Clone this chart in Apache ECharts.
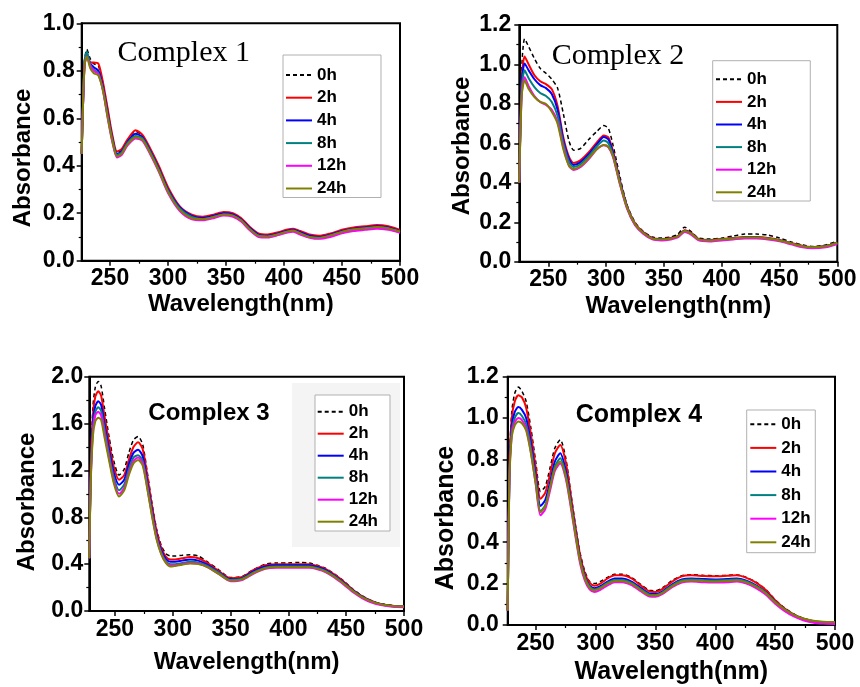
<!DOCTYPE html>
<html>
<head>
<meta charset="utf-8">
<script src="https://cdn.jsdelivr.net/npm/echarts@6/dist/echarts.min.js"></script>
<style>
html,body{margin:0;padding:0;background:#fff;}
#chart{width:860px;height:687px;}
</style>
</head>
<body>
<div id="chart"></div>
<script>
// ---------- shared ----------
const seriesNames = ['0h','2h','4h','8h','12h','24h'];
const seriesColors = ['#000000','#ff0000','#0000ff','#008080','#ff00ff','#808000'];
const panelTitles = ['Complex 1','Complex 2','Complex 3','Complex 4'];
const xTickLabels = [250,300,350,400,450,500];
const xMinorTicks = [275,325,375,425,475];
const xRangeMin = [225.6,224.9,227.8,226.6];
const xRangeMax = [500,500,500,500];
const yRangeMax = [1.0,1.2,2.0,1.2];
const yInterval = [0.2,0.2,0.4,0.2];

// ---------- Complex 1 ----------
const wl1 = [225.6,228,230,233,236,240,244,248,252,256,260,265,272,278,285,292,300,310,320,330,340,348,356,363,370,378,386,395,402,408,414,422,430,440,450,460,470,480,490,500];
const c1_0h = [0.45,0.84,0.89,0.85,0.83,0.82,0.745,0.635,0.525,0.455,0.465,0.505,0.545,0.525,0.465,0.395,0.305,0.225,0.19,0.18,0.19,0.2,0.195,0.175,0.14,0.11,0.107,0.117,0.127,0.132,0.122,0.107,0.102,0.112,0.127,0.137,0.142,0.147,0.142,0.127];
const c1_2h = [0.45,0.82,0.86,0.835,0.835,0.83,0.75,0.64,0.53,0.46,0.47,0.51,0.55,0.53,0.47,0.40,0.31,0.23,0.195,0.185,0.195,0.205,0.20,0.18,0.145,0.115,0.11,0.12,0.13,0.135,0.125,0.11,0.105,0.115,0.13,0.14,0.145,0.15,0.145,0.13];
const c1_4h = [0.45,0.83,0.875,0.83,0.815,0.80,0.73,0.62,0.515,0.45,0.46,0.50,0.535,0.52,0.46,0.39,0.30,0.225,0.19,0.18,0.19,0.2,0.195,0.175,0.14,0.11,0.105,0.115,0.125,0.13,0.12,0.105,0.10,0.11,0.125,0.135,0.14,0.145,0.14,0.125];
const c1_8h = [0.45,0.84,0.88,0.825,0.805,0.79,0.72,0.61,0.51,0.445,0.455,0.495,0.525,0.515,0.455,0.385,0.295,0.22,0.185,0.175,0.185,0.195,0.19,0.17,0.135,0.105,0.10,0.11,0.12,0.125,0.115,0.10,0.095,0.105,0.12,0.13,0.135,0.14,0.135,0.12];
const c1_12h = [0.45,0.82,0.86,0.82,0.80,0.785,0.715,0.60,0.50,0.435,0.445,0.485,0.515,0.505,0.445,0.375,0.285,0.21,0.175,0.17,0.18,0.19,0.185,0.165,0.13,0.10,0.098,0.108,0.118,0.122,0.11,0.097,0.092,0.10,0.115,0.125,0.13,0.135,0.13,0.118];
const c1_24h = [0.45,0.82,0.86,0.81,0.79,0.78,0.715,0.605,0.505,0.44,0.45,0.49,0.52,0.51,0.45,0.38,0.29,0.215,0.18,0.175,0.185,0.195,0.19,0.17,0.135,0.105,0.102,0.112,0.122,0.127,0.115,0.10,0.097,0.107,0.122,0.132,0.137,0.142,0.137,0.123];

// ---------- Complex 2 ----------
const wl2 = [224.9,227,229.5,233,238,243,248,253,258,263,268,272,278,285,292,298,302,306,312,318,325,332,340,348,356,362,368,374,380,390,400,410,420,430,440,450,460,470,478,490,500];
const c2_0h = [0.40,0.98,1.13,1.09,1.03,0.98,0.955,0.925,0.88,0.75,0.61,0.565,0.575,0.62,0.66,0.69,0.675,0.59,0.43,0.29,0.20,0.155,0.125,0.12,0.125,0.14,0.175,0.15,0.12,0.115,0.12,0.13,0.14,0.14,0.135,0.12,0.10,0.085,0.077,0.085,0.105];
const c2_2h = [0.40,0.93,1.04,1.00,0.945,0.915,0.90,0.875,0.79,0.63,0.53,0.50,0.515,0.555,0.605,0.64,0.63,0.56,0.41,0.285,0.195,0.15,0.12,0.115,0.12,0.13,0.16,0.145,0.115,0.11,0.115,0.12,0.125,0.125,0.12,0.11,0.095,0.08,0.075,0.08,0.098];
const c2_4h = [0.40,0.91,1.005,0.97,0.925,0.895,0.88,0.85,0.77,0.615,0.52,0.49,0.505,0.545,0.595,0.632,0.62,0.55,0.405,0.28,0.19,0.148,0.118,0.113,0.118,0.128,0.157,0.142,0.113,0.108,0.113,0.118,0.123,0.123,0.118,0.108,0.093,0.078,0.073,0.078,0.096];
const c2_8h = [0.40,0.88,0.97,0.93,0.885,0.855,0.84,0.81,0.74,0.60,0.505,0.48,0.495,0.535,0.585,0.615,0.60,0.54,0.40,0.278,0.19,0.147,0.117,0.112,0.117,0.127,0.155,0.14,0.112,0.107,0.112,0.117,0.122,0.122,0.117,0.107,0.092,0.077,0.072,0.077,0.095];
const c2_12h = [0.40,0.85,0.935,0.89,0.84,0.81,0.795,0.77,0.71,0.58,0.485,0.465,0.48,0.52,0.57,0.59,0.58,0.53,0.39,0.27,0.185,0.142,0.113,0.108,0.113,0.123,0.15,0.135,0.108,0.103,0.108,0.113,0.118,0.118,0.113,0.103,0.088,0.073,0.068,0.073,0.09];
const c2_24h = [0.40,0.84,0.92,0.875,0.835,0.81,0.80,0.76,0.70,0.57,0.485,0.47,0.485,0.525,0.57,0.592,0.582,0.535,0.395,0.275,0.19,0.147,0.117,0.113,0.118,0.128,0.156,0.141,0.113,0.108,0.113,0.118,0.123,0.123,0.118,0.108,0.093,0.078,0.073,0.078,0.096];

// ---------- Complex 3 ----------
const wl3 = [227.8,229,231,233,235.5,238,241,245,249,253.5,258,262,266,270,274,278,282,286,290,294,298,302,308,315,322,330,340,350,360,370,380,390,400,410,418,425,432,440,448,456,464,472,480,490,500];
const c3_0h = [0.45,1.25,1.75,1.91,1.96,1.92,1.73,1.48,1.28,1.16,1.21,1.35,1.46,1.49,1.42,1.18,0.92,0.70,0.56,0.49,0.47,0.47,0.475,0.48,0.47,0.42,0.35,0.285,0.295,0.355,0.40,0.41,0.41,0.415,0.41,0.39,0.365,0.315,0.255,0.185,0.128,0.087,0.062,0.046,0.04];
const c3_2h = [0.45,1.2,1.68,1.83,1.875,1.84,1.66,1.43,1.23,1.12,1.16,1.29,1.40,1.44,1.38,1.15,0.90,0.68,0.54,0.465,0.44,0.44,0.45,0.46,0.45,0.41,0.34,0.28,0.29,0.35,0.39,0.40,0.40,0.40,0.40,0.385,0.36,0.31,0.25,0.18,0.125,0.085,0.06,0.045,0.04];
const c3_4h = [0.45,1.15,1.62,1.75,1.79,1.76,1.59,1.37,1.18,1.077,1.12,1.25,1.35,1.376,1.32,1.10,0.86,0.65,0.52,0.445,0.42,0.42,0.43,0.44,0.43,0.395,0.33,0.27,0.28,0.34,0.38,0.39,0.39,0.39,0.39,0.375,0.35,0.30,0.24,0.175,0.12,0.082,0.058,0.043,0.039];
const c3_8h = [0.45,1.12,1.57,1.70,1.74,1.71,1.55,1.33,1.14,1.03,1.08,1.21,1.31,1.33,1.28,1.07,0.84,0.63,0.50,0.425,0.40,0.40,0.41,0.42,0.415,0.385,0.325,0.265,0.275,0.33,0.37,0.38,0.38,0.38,0.38,0.367,0.343,0.295,0.235,0.17,0.117,0.08,0.056,0.041,0.037];
const c3_12h = [0.45,1.10,1.54,1.67,1.70,1.67,1.51,1.30,1.11,1.0,1.05,1.18,1.28,1.31,1.26,1.05,0.82,0.62,0.49,0.415,0.39,0.39,0.40,0.41,0.405,0.375,0.315,0.255,0.265,0.32,0.36,0.37,0.37,0.37,0.37,0.357,0.333,0.285,0.225,0.16,0.108,0.072,0.05,0.036,0.033];
const c3_24h = [0.45,1.08,1.50,1.62,1.65,1.63,1.48,1.28,1.09,0.977,1.03,1.16,1.26,1.29,1.24,1.04,0.81,0.61,0.485,0.41,0.38,0.385,0.395,0.405,0.40,0.375,0.315,0.26,0.27,0.325,0.365,0.375,0.375,0.375,0.375,0.362,0.338,0.29,0.232,0.168,0.116,0.08,0.057,0.043,0.04];

// ---------- Complex 4 ----------
const wl4 = [226.6,228,230,232.5,235.5,238.5,242,246,250,254,258,262,266,270.5,275,279,283,287,291,295,299,304,310,316,322,330,338,345,350,356,364,372,380,390,400,410,418,426,434,442,450,458,466,474,482,490,500];
const c4_0h = [0.07,0.77,1.03,1.12,1.15,1.13,1.08,0.95,0.79,0.645,0.67,0.76,0.855,0.895,0.81,0.65,0.49,0.35,0.26,0.21,0.2,0.21,0.23,0.245,0.245,0.23,0.195,0.168,0.165,0.18,0.215,0.238,0.243,0.24,0.238,0.24,0.242,0.23,0.207,0.172,0.122,0.082,0.052,0.031,0.019,0.013,0.011];
const c4_2h = [0.07,0.75,1.0,1.08,1.11,1.10,1.05,0.92,0.76,0.61,0.64,0.73,0.83,0.87,0.79,0.64,0.48,0.34,0.25,0.205,0.19,0.20,0.225,0.24,0.24,0.225,0.19,0.163,0.16,0.175,0.21,0.235,0.24,0.237,0.235,0.238,0.24,0.228,0.205,0.17,0.12,0.08,0.05,0.03,0.018,0.013,0.011];
const c4_4h = [0.07,0.72,0.96,1.03,1.053,1.04,1.0,0.88,0.72,0.575,0.605,0.69,0.79,0.83,0.75,0.61,0.46,0.32,0.235,0.19,0.178,0.188,0.21,0.225,0.225,0.21,0.178,0.152,0.15,0.163,0.197,0.22,0.225,0.222,0.22,0.222,0.225,0.214,0.192,0.16,0.113,0.075,0.047,0.028,0.016,0.012,0.01];
const c4_8h = [0.07,0.71,0.94,1.0,1.024,1.01,0.97,0.855,0.70,0.55,0.58,0.67,0.765,0.806,0.73,0.60,0.45,0.315,0.23,0.185,0.172,0.182,0.204,0.218,0.218,0.204,0.172,0.147,0.145,0.158,0.192,0.215,0.22,0.217,0.215,0.217,0.22,0.21,0.188,0.157,0.112,0.076,0.048,0.029,0.018,0.014,0.012];
const c4_12h = [0.07,0.70,0.92,0.98,1.0,0.99,0.95,0.835,0.68,0.53,0.56,0.65,0.745,0.78,0.71,0.58,0.435,0.30,0.215,0.172,0.16,0.17,0.192,0.207,0.207,0.193,0.162,0.138,0.136,0.15,0.183,0.205,0.21,0.207,0.205,0.207,0.21,0.2,0.178,0.147,0.103,0.067,0.04,0.022,0.011,0.007,0.005];
const c4_24h = [0.07,0.69,0.91,0.965,0.984,0.975,0.94,0.83,0.685,0.545,0.575,0.665,0.755,0.79,0.72,0.59,0.445,0.31,0.225,0.18,0.168,0.178,0.2,0.213,0.213,0.2,0.168,0.143,0.142,0.155,0.188,0.21,0.215,0.213,0.21,0.213,0.216,0.206,0.185,0.155,0.11,0.075,0.048,0.03,0.02,0.016,0.014];

const panelWl = [wl1, wl2, wl3, wl4];
const panelValues = [
  [c1_0h,c1_2h,c1_4h,c1_8h,c1_12h,c1_24h],
  [c2_0h,c2_2h,c2_4h,c2_8h,c2_12h,c2_24h],
  [c3_0h,c3_2h,c3_4h,c3_8h,c3_12h,c3_24h],
  [c4_0h,c4_2h,c4_4h,c4_8h,c4_12h,c4_24h]
];

// ---------- layout (positions / styles only) ----------
const SANS = "'Liberation Sans', Arial, Helvetica, sans-serif";
const SERIF = "'Liberation Serif', 'Times New Roman', serif";
const layout = [
  {grid:{left:81.7, top:23.3, width:318.3, height:237.4}, xLabelMargin:6, xNameGap:32, yLabelMargin:7, nameSize:24,
   legend:{left:283, top:55, padding:[11.5,34.7,0.5,2], gap:5.7},
   title:{x:117.5, y:53, font:'30px '+SERIF}, yName:{x:23, y:158}},
  {grid:{left:519.3, top:25, width:318, height:236.7}, xLabelMargin:6, xNameGap:33, yLabelMargin:8, nameSize:24,
   legend:{left:712.7, top:60.7, padding:[10.1,34,0.2,2.3], gap:5.6},
   title:{x:551.7, y:56, font:'30px '+SERIF}, yName:{x:462, y:146}},
  {grid:{left:89.3, top:376.7, width:314.7, height:234.3}, xLabelMargin:7, xNameGap:39, yLabelMargin:6, nameSize:24,
   legend:{left:315, top:395, padding:[8.2,12,0.8,1.7], gap:5},
   title:{x:148.3, y:413.5, font:'bold 24px '+SANS}, yName:{x:27, y:502}},
  {grid:{left:507.7, top:376.7, width:327.3, height:248.3}, xLabelMargin:7, xNameGap:35, yLabelMargin:9, nameSize:25,
   legend:{left:746.7, top:410, padding:[5.8,4.7,1.9,2.6], gap:6.6},
   title:{x:575.7, y:415.5, font:'bold 25px '+SANS}, yName:{x:446, y:518}}
];

const grids = [], xAxes = [], yAxes = [], series = [], legends = [], graphics = [];

layout.forEach((L, p) => {
  grids.push(Object.assign({show:true, borderColor:'#000', borderWidth:2, backgroundColor:'transparent'}, L.grid));
  // main x axis
  xAxes.push({
    type:'value', gridIndex:p, min:xRangeMin[p], max:xRangeMax[p], position:'bottom',
    name:'Wavelength(nm)', nameLocation:'middle', nameGap:L.xNameGap,
    nameTextStyle:{fontFamily:SANS, fontWeight:'bold', fontSize:L.nameSize, color:'#000'},
    axisLine:{show:true, onZero:false, lineStyle:{color:'#000', width:2}},
    axisTick:{show:true, inside:false, length:5, lineStyle:{color:'#000', width:1.5}, customValues:xTickLabels},
    axisLabel:{show:true, margin:L.xLabelMargin, fontFamily:SANS, fontWeight:'bold', fontSize:23, color:'#000', customValues:xTickLabels},
    splitLine:{show:false}
  });
  // minor x ticks
  xAxes.push({
    type:'value', gridIndex:p, min:xRangeMin[p], max:xRangeMax[p], position:'bottom',
    axisLine:{show:false}, axisLabel:{show:false}, splitLine:{show:false},
    axisTick:{show:true, inside:false, length:3, lineStyle:{color:'#000', width:1.2}, customValues:xMinorTicks}
  });
  yAxes.push({
    type:'value', gridIndex:p, min:0, max:yRangeMax[p], interval:yInterval[p],
    axisLine:{show:true, onZero:false, lineStyle:{color:'#000', width:2}},
    axisTick:{show:true, inside:false, length:5, lineStyle:{color:'#000', width:1.5}},
    minorTick:{show:true, splitNumber:2, length:3, lineStyle:{color:'#000', width:1.2}},
    axisLabel:{margin:L.yLabelMargin, fontFamily:SANS, fontWeight:'bold', fontSize:23, color:'#000',
      formatter:(v)=>v.toFixed(1)},
    splitLine:{show:false}
  });
  const wl = panelWl[p];
  panelValues[p].forEach((vals, j) => {
    series.push({
      type:'line', name:seriesNames[j], xAxisIndex:p*2, yAxisIndex:p,
      data: wl.map((w,k)=>[w, vals[k]]),
      smooth:0.25, symbol:'none', showSymbol:false, clip:true,
      lineStyle:{color:seriesColors[j], width: j===0 ? 1.5 : 2, type: j===0 ? [4,3] : 'solid'},
      itemStyle:{color:seriesColors[j]},
      emphasis:{disabled:true}, z: 2 + j
    });
  });
  legends.push({
    orient:'vertical', left:L.legend.left, top:L.legend.top, padding:L.legend.padding,
    itemGap:L.legend.gap, itemWidth:26, itemHeight:14, selectedMode:false,
    backgroundColor:'#fff', borderColor:'#b0b0b0', borderWidth:1,
    itemStyle:{opacity:0},
    data:seriesNames.slice(),
    textStyle:{fontFamily:SANS, fontWeight:'bold', fontSize:17, lineHeight:17, color:'#000'}
  });
  graphics.push({type:'text', x:L.title.x, y:L.title.y, z:10,
    style:{text:panelTitles[p], font:L.title.font, fill:'#000', textAlign:'left', textVerticalAlign:'middle'}});
  graphics.push({type:'text', x:L.yName.x, y:L.yName.y, rotation:Math.PI/2, z:10,
    style:{text:'Absorbance', font:'bold '+L.nameSize+'px '+SANS, fill:'#000', textAlign:'center', textVerticalAlign:'middle'}});
});

// light grey panel behind the Complex 3 legend
graphics.push({type:'rect', shape:{x:292, y:383, width:108, height:164}, z:1, style:{fill:'#f4f4f4'}});

const chart = echarts.init(document.getElementById('chart'), null, {renderer:'canvas'});
chart.setOption({
  animation:false,
  backgroundColor:'#fff',
  grid:grids, xAxis:xAxes, yAxis:yAxes, series:series, legend:legends, graphic:graphics
});
</script>
</body>
</html>
